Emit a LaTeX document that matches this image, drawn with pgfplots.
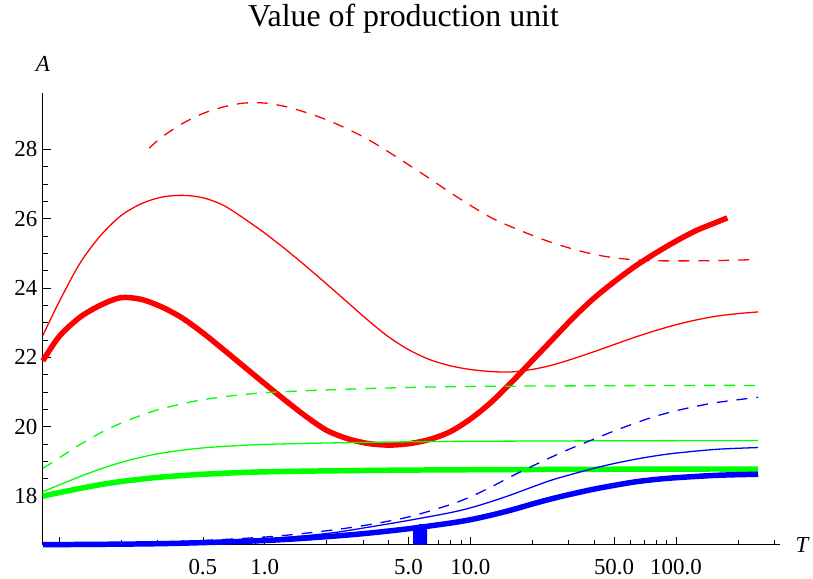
\documentclass[border=0pt]{standalone}
\usepackage{fontspec}
\setmainfont{Liberation Serif}
\usepackage{pgfplots}
\pgfplotsset{compat=1.18}

\begin{document}
\begin{tikzpicture}
\begin{axis}[
  scale only axis, width=740pt, height=453.7pt,
  xmode=log,
  xmin=0.08333, xmax=321, ymin=16.6, ymax=29.63,
  axis lines=left, axis line style={-, black, line width=0.8pt},
  tick align=inside,
  xtick={0.1,0.5,1,5,10,50,100},
  xticklabels={,0.5,1.0,5.0,10.0,50.0,100.0},
  minor xtick={0.2,0.3,0.4,0.6,0.7,0.8,0.9,2,3,4,6,7,8,9,20,30,40,60,70,80,90,200,300},
  ytick={18,20,...,28}, minor y tick num=3,
  major tick length=8pt, minor tick length=5pt,
  every tick/.style={black, line width=0.6pt},
  tick label style={font=\fontsize{23}{27}\selectfont},
  /pgf/number format/assume math mode=true,
  xticklabel style={yshift=-11pt},
  yticklabel style={xshift=-2pt},
  xlabel={\textit{T}}, ylabel={\textit{A}},
  every axis x label/.style={at={(1,0)}, anchor=west, xshift=12pt, font=\fontsize{23}{27}\selectfont},
  every axis y label/.style={at={(0,1)}, anchor=south, yshift=18pt, font=\fontsize{23}{27}\selectfont},
  title={Value of production unit},
  title style={at={(0.5,1)}, anchor=base, yshift=60pt, xshift=-8pt, font=\fontsize{32}{38}\selectfont},
  clip=false,
]
% red
\addplot[red, line width=5.5pt, smooth] coordinates {
(0.08333,21.9) (0.1,22.6) (0.1259,23.15) (0.1585,23.5) (0.1995,23.72) (0.2512,23.67)
(0.3162,23.45) (0.3981,23.13) (0.5012,22.70) (0.631,22.22) (0.7943,21.73) (1,21.24)
(1.259,20.76) (1.585,20.3) (1.995,19.9) (2.512,19.66) (3.162,19.52) (3.981,19.47)
(5.012,19.51) (6.31,19.63) (7.943,19.85) (10,20.22) (12.59,20.7) (15.85,21.28)
(19.95,21.9) (25.12,22.52) (31.62,23.14) (39.81,23.7) (50.12,24.18) (63.1,24.62)
(79.43,25.0) (100,25.35) (125.9,25.66) (158.5,25.9) (177.8,26.02)};
\addplot[red, line width=1.3pt, smooth] coordinates {
(0.08333,22.63) (0.1,23.6) (0.1259,24.7) (0.1585,25.5) (0.1995,26.08) (0.2512,26.43)
(0.3162,26.62) (0.3981,26.67) (0.5012,26.6) (0.631,26.38) (0.7943,26.0) (1,25.58)
(1.259,25.12) (1.585,24.63) (1.995,24.12) (2.512,23.6) (3.162,23.08) (3.981,22.6)
(5.012,22.22) (6.31,21.94) (7.943,21.76) (10,21.65) (12.59,21.59) (15.85,21.58)
(19.95,21.65) (25.12,21.78) (31.62,21.96) (39.81,22.16) (50.12,22.37) (63.1,22.58)
(79.43,22.77) (100,22.94) (125.9,23.08) (158.5,23.19) (199.5,23.26) (251.2,23.31)};
\addplot[red, line width=1.3pt, smooth, dash pattern=on 11pt off 9pt] coordinates {
(0.2742,28.03) (0.3162,28.35) (0.3981,28.74) (0.5012,29.03) (0.631,29.22) (0.7943,29.33)
(1,29.33) (1.259,29.23) (1.585,29.06) (1.995,28.85) (2.512,28.59)
(3.162,28.29) (3.981,27.93) (5.012,27.55) (6.31,27.16) (7.943,26.76) (10,26.38)
(12.59,26.03) (15.85,25.76) (19.95,25.52) (25.12,25.3) (31.62,25.12) (39.81,24.97)
(50.12,24.87) (63.1,24.81) (79.43,24.785) (100,24.78) (158.5,24.79) (251.2,24.82)};
% green
\addplot[green, line width=5.5pt, smooth] coordinates {
(0.08333,18.0) (0.1,18.1) (0.1259,18.22) (0.1585,18.33) (0.1995,18.42) (0.2512,18.49)
(0.3162,18.55) (0.5012,18.63) (1,18.7) (3.162,18.74) (10,18.76) (100,18.78) (251.2,18.78)};
\addplot[green, line width=1.3pt, smooth] coordinates {
(0.08333,18.13) (0.1,18.32) (0.1259,18.56) (0.1585,18.78) (0.1995,18.97) (0.2512,19.12)
(0.3162,19.24) (0.5012,19.39) (1,19.49) (3.162,19.55) (10,19.58) (100,19.6) (251.2,19.6)};
\addplot[green, line width=1.3pt, smooth, dash pattern=on 11pt off 9pt] coordinates {
(0.08333,18.8) (0.1,19.1) (0.1259,19.48) (0.1585,19.82) (0.1995,20.1) (0.2512,20.33)
(0.3162,20.52) (0.5012,20.78) (1,20.98) (3.162,21.1) (10,21.16) (100,21.19) (251.2,21.19)};
% blue
\addplot[blue, line width=5.5pt, smooth] coordinates {
(0.08333,16.6) (0.3162,16.63) (1,16.72) (1.995,16.83) (3.162,16.93) (5.012,17.06)
(7.943,17.22) (10,17.32) (12.59,17.45) (15.85,17.6) (19.95,17.77) (25.12,17.93)
(31.62,18.07) (39.81,18.2) (50.12,18.31) (63.1,18.41) (79.43,18.48) (100,18.53)
(158.5,18.6) (251.2,18.63)};
\addplot[blue, line width=1.3pt, smooth] coordinates {
(0.08333,16.61) (0.3162,16.65) (1,16.77) (1.995,16.92) (3.162,17.1) (5.012,17.3)
(7.943,17.52) (10,17.66) (12.59,17.84) (15.85,18.04) (19.95,18.26) (25.12,18.47)
(31.62,18.64) (39.81,18.8) (50.12,18.94) (63.1,19.06) (79.43,19.16) (100,19.24)
(158.5,19.35) (251.2,19.40)};
\addplot[blue, line width=1.3pt, smooth, dash pattern=on 11pt off 9pt] coordinates {
(0.08333,16.62) (0.3162,16.67) (1,16.82) (1.995,17.0) (3.162,17.17) (5.012,17.4)
(7.943,17.75) (10,17.98) (12.59,18.26) (15.85,18.57) (19.95,18.86) (25.12,19.14)
(31.62,19.4) (39.81,19.64) (50.12,19.88) (63.1,20.1) (79.43,20.3) (100,20.46)
(125.9,20.59) (158.5,20.7) (251.2,20.85)};
\addplot[blue, fill=blue, draw=none] coordinates {(5.27,17.06) (5.7,17.2) (6.17,17.1)} \closedcycle;
\end{axis}
\path (current axis.south west) ++(-43pt,-34.3pt) rectangle ++(813pt,581pt);
\end{tikzpicture}
\end{document}
